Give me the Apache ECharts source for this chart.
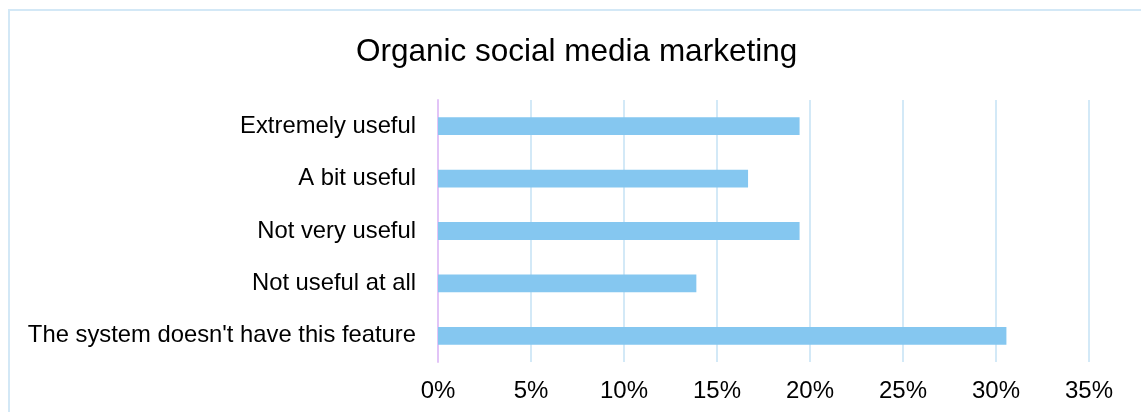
<!DOCTYPE html>
<html>
<head>
<meta charset="utf-8">
<script src="https://cdn.jsdelivr.net/npm/echarts@6/dist/echarts.min.js"></script>
<style>
  html, body { margin: 0; padding: 0; background: #ffffff; }
  #chart { position: absolute; left: 0; top: 0; width: 1141px; height: 412px; }
  #frame {
    position: absolute; left: 8px; top: 9px; width: 1160px; height: 440px;
    border: 2px solid #d3e8f6; box-sizing: border-box; pointer-events: none;
  }
</style>
</head>
<body>
<div id="chart"></div>
<div id="frame"></div>
<script>
// Survey answers, top to bottom
const categories = [
  'Extremely useful',
  'A bit useful',
  'Not very useful',
  'Not useful at all',
  "The system doesn't have this feature"
];
// Share of respondents (%)
const shares = [19.44, 16.67, 19.44, 13.89, 30.56];
// Value-axis ticks (%)
const tickValues = [0, 5, 10, 15, 20, 25, 30, 35];

const chart = echarts.init(document.getElementById('chart'), null, { renderer: 'canvas' });
const font = '"Liberation Sans", Arial, sans-serif';

chart.setOption({
  backgroundColor: '#ffffff',
  animation: false,
  title: {
    text: 'Organic social media marketing',
    left: 351,
    top: 31,
    textStyle: { fontFamily: font, fontSize: 31.5, fontWeight: 'normal', color: '#000000' }
  },
  grid: { left: 438, top: 100, width: 651, height: 262, containLabel: false },
  xAxis: {
    type: 'value',
    min: tickValues[0],
    max: tickValues[tickValues.length - 1],
    interval: 5,
    axisLine: { show: false },
    axisTick: { show: false },
    splitLine: { show: true, lineStyle: { color: '#d3e9f7', width: 2 } },
    axisLabel: {
      margin: 17,
      fontFamily: font, fontSize: 24, color: '#000000',
      formatter: v => v + '%'
    }
  },
  yAxis: {
    type: 'category',
    data: categories,
    inverse: true,
    axisLine: { show: true, lineStyle: { color: '#e2c4f7', width: 2 } },
    axisTick: { show: false },
    splitLine: { show: false },
    axisLabel: { margin: 22, fontFamily: font, fontSize: 23.8, color: '#000000' }
  },
  series: [{
    type: 'bar',
    data: shares,
    barWidth: '34%',
    itemStyle: { color: '#85c7f0' },
    silent: true
  }]
});
</script>
</body>
</html>
